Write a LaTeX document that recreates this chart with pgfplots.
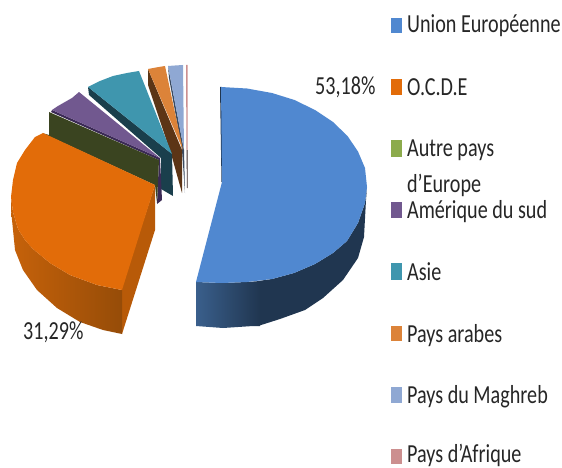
\documentclass[border=0pt]{standalone}
\usepackage{pgfplots}
\pgfplotsset{compat=1.18}
\usepackage{fontspec}
\setmainfont{Carlito}
\definecolor{blueT}{HTML}{5088D0}
\definecolor{orT}{HTML}{E26C09}
\definecolor{grL}{HTML}{8CAB4C}
\definecolor{puT}{HTML}{71588F}
\definecolor{teT}{HTML}{3F96AE}
\definecolor{loT}{HTML}{DC8339}
\definecolor{maT}{HTML}{8FA8D3}
\definecolor{piT}{HTML}{CC8F8F}
\definecolor{txt}{HTML}{262626}
\definecolor{maD}{HTML}{3A4A60}
\definecolor{loD}{HTML}{5C3516}
\definecolor{teD}{HTML}{1A3F4C}
\definecolor{puD}{HTML}{3B2A55}
\definecolor{grD}{HTML}{3A4420}
\definecolor{orS}{HTML}{B85A08}
\definecolor{orA}{HTML}{C6620A}
\definecolor{orB}{HTML}{964C08}
\definecolor{blD}{HTML}{203650}
\definecolor{blA}{HTML}{3A5F8C}
\pgfplotsset{poly/.style={draw=none,no marks,fill=#1}}
\tikzset{lab/.style={anchor=base west,inner sep=0pt,text=txt,xscale=0.775,transform shape,font=\fontsize{26}{26}\selectfont}}
\begin{document}
\begin{tikzpicture}
\begin{axis}[at={(0,0)},anchor=south west,scale only axis,width=562pt,height=468pt,
  xmin=0,xmax=562,ymin=0,ymax=468,y dir=reverse,axis lines=none,clip=false]
% Afrique
\addplot[poly=piT] coordinates {(186,65)(187.5,65)(187.5,150)(186.5,150)};
\addplot[poly=black!70!piT] coordinates {(186.5,150)(187.5,150)(187.5,188)(187,188)};
% Maghreb
\addplot[poly=maD] coordinates {(168,66)(184,150)(185,193)(182,150)(169,78)};
\addplot[poly=maT] coordinates {(168,66)(175,65.5)(183,65)(184,150)};
% Pays arabes
\addplot[poly=loD] coordinates {(148,69)(182,150)(182,193)(172,157)(148,85)};
\addplot[poly=loT] coordinates {(148,69)(156,67.5)(165,66)(183,150)};
% Asie
\addplot[poly=teD] coordinates {(88,87)(172,154)(173,196)(161,189)(161,158)(89,95)};
\addplot[poly=teT] coordinates {(88,87)(100,81)(113,76)(127,73)(139,71)(172,154)};
% Amerique
\addplot[poly=puD] coordinates {(52,110)(160,158)(162,200)(157,204)(159,160)(51,112)};
\addplot[poly=puT] coordinates {(52,110)(58,106)(65,102)(72,98)(79,92)(160,158)};
% Autre pays d'Europe
\addplot[poly=grD] coordinates {(49,112)(159,160)(157,203)(155,185)(42,133)(49,135)};
% OCDE
\addplot[poly=orS] coordinates {(121,289)(155,185)(155,230)(122,334)};
\addplot[draw=none,no marks,left color=orA,right color=orB] coordinates {(11,197)(13,212)(18,229)(25,240)(33,249)(50,263)(70,275)(97,285)(122,290)(122,334)(103,330)(80,322)(57,308)(37,290)(23,270)(15,250)(13,230)(11,210)};
\addplot[poly=orT] coordinates {(43,133)(35,137)(25,150)(17,163)(13,180)(11,197)(13,212)(18,229)(25,240)(33,249)(50,263)(70,275)(97,285)(122,290)(155,185)};
% UE
\addplot[poly=blD] coordinates {(367,187)(365,203)(358,223)(347,241)(333,253)(315,264)(294,273)(272,279)(258,281)(258,326)(280,319)(305,310)(323,298)(343,280)(358,258)(364,237)(366,200)};
\addplot[draw=none,no marks,left color=blA,right color=blD] coordinates {(196,282)(222,283)(247,282)(260,281)(260,326)(253,326)(223,328)(196,326)};
\addplot[poly=blD] coordinates {(220,87)(221.5,87)(222.5,182)(221.5,182)};
\addplot[poly=blueT] coordinates {(221,87)(247,88.5)(272,93)(294.5,100)(315,110)(333,122)(347.5,136)(358,151.5)(365,168)(367,187)(365,203)(358,223)(347,241)(333,253)(315,264)(294,273)(272,279)(247,282)(222,283)(196,282)(222,182)};
% legend keys
\addplot[poly=blueT] coordinates {(391,18)(402,18)(402,33)(391,33)};
\addplot[poly=orT] coordinates {(391,79)(402,79)(402,95)(391,95)};
\addplot[poly=grL] coordinates {(391,140)(402,140)(402,157)(391,157)};
\addplot[poly=puT] coordinates {(391,202)(402,202)(402,218)(391,218)};
\addplot[poly=teT] coordinates {(391,263)(402,263)(402,280)(391,280)};
\addplot[poly=loT] coordinates {(391,326)(402,326)(402,341)(391,341)};
\addplot[poly=maT] coordinates {(391,387)(402,387)(402,403)(391,403)};
\addplot[poly=piT] coordinates {(391,449)(402,449)(402,464)(391,464)};
% text
\node[lab] at (axis cs:407,33) {Union Européenne};
\node[lab] at (axis cs:407,96) {O.C.D.E};
\node[lab] at (axis cs:407,157) {Autre pays};
\node[lab] at (axis cs:407,192) {d’Europe};
\node[lab] at (axis cs:407,218) {Amérique du sud};
\node[lab] at (axis cs:407,280) {Asie};
\node[lab] at (axis cs:407,342) {Pays arabes};
\node[lab] at (axis cs:407,403) {Pays du Maghreb};
\node[lab] at (axis cs:407,462.5) {Pays d’Afrique};
\node[lab] at (axis cs:315,95) {53,18\%};
\node[lab] at (axis cs:23,339) {31,29\%};
\end{axis}
\pgfresetboundingbox
\path[use as bounding box] (0,0) rectangle (562pt,468pt);
\end{tikzpicture}
\end{document}
